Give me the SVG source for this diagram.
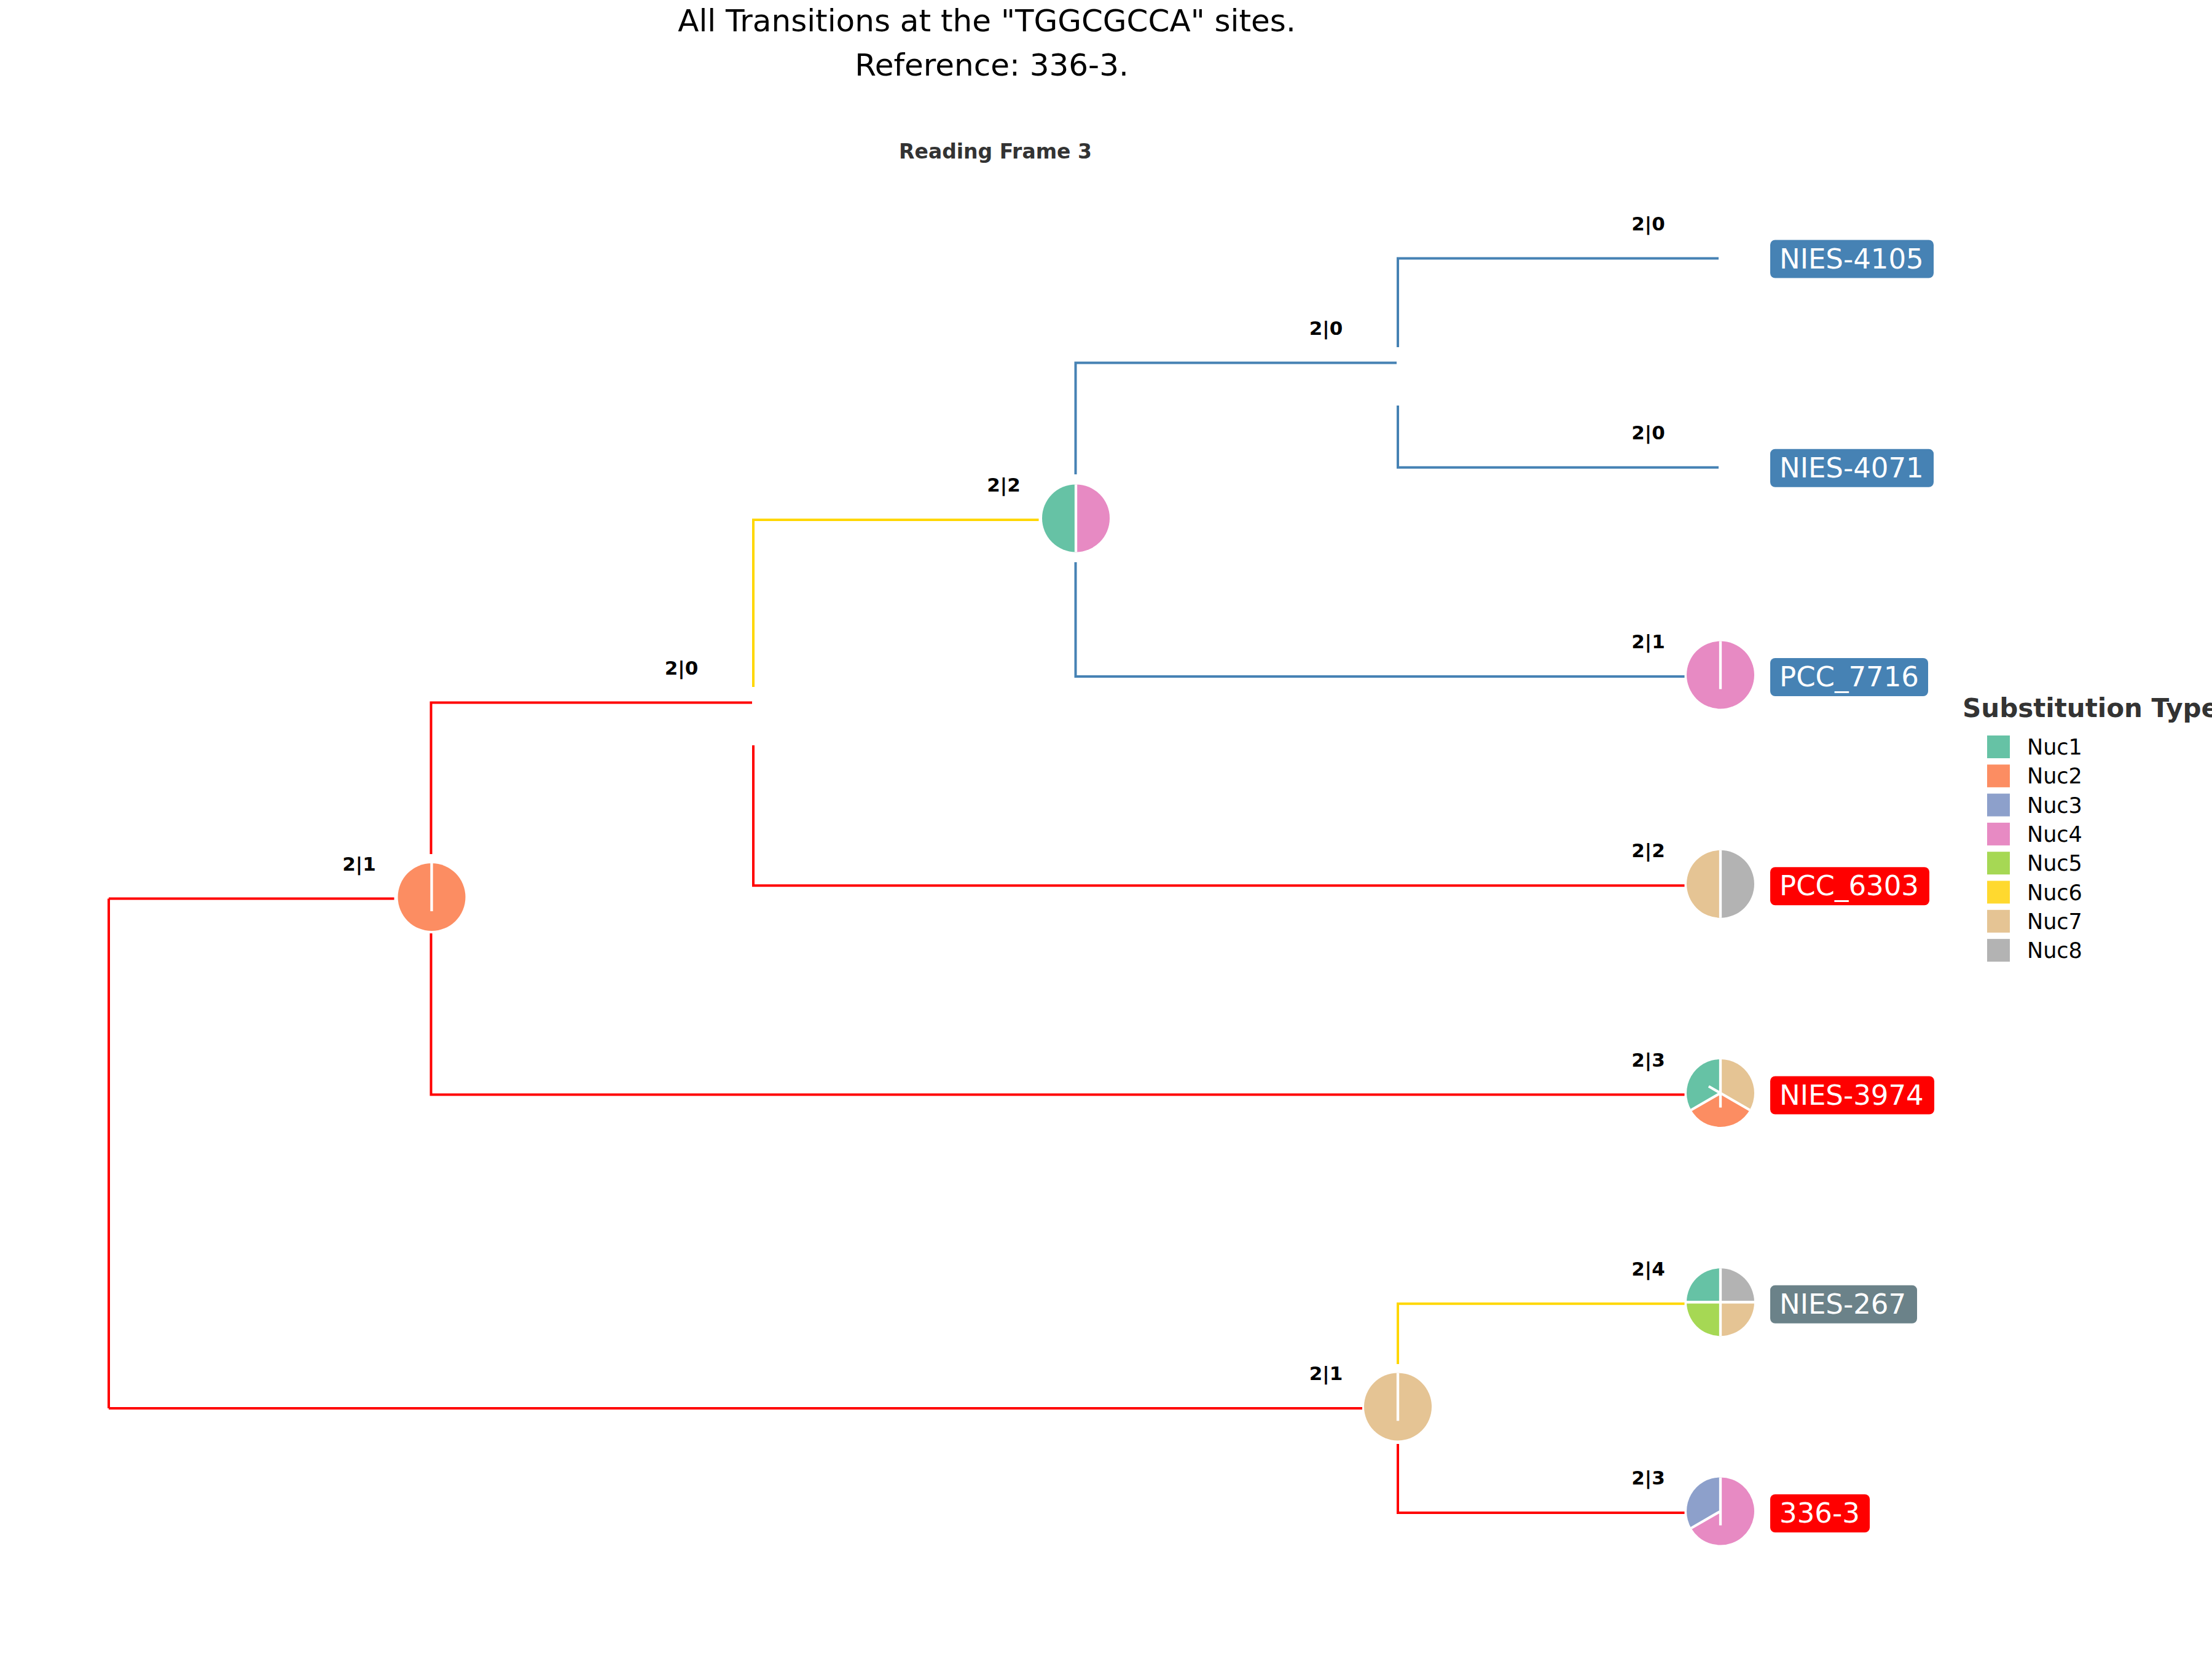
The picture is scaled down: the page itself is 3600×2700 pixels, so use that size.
<svg xmlns="http://www.w3.org/2000/svg" width="3600" height="2700" viewBox="0 0 3600 2700">
  <style>
    text { font-family: "DejaVu Sans", "Liberation Sans", sans-serif; }
    .title { font-size: 50px; fill: #000; text-anchor: middle; }
    .subtitle { font-size: 33px; font-weight: bold; fill: #333333; text-anchor: middle; }
    .blabel { font-size: 31px; font-weight: bold; fill: #000; text-anchor: middle; }
    .tip { font-size: 45px; fill: #fff; }
    .legtitle { font-size: 42px; font-weight: bold; fill: #333333; }
    .legtext { font-size: 35px; fill: #000; }
    .br { fill: none; stroke-width: 4; stroke-linejoin: miter; stroke-linecap: butt; }
    .red { stroke: #ff0000; }
    .blue { stroke: #4682b4; }
    .gold { stroke: #ffd700; }
    .edge { stroke: #fff; stroke-width: 4.3; fill: none; stroke-linecap: butt; }
    .n1 { fill: #66c2a5; } .n2 { fill: #fc8d62; } .n3 { fill: #8da0cb; } .n4 { fill: #e78ac3; }
    .n5 { fill: #a6d854; } .n6 { fill: #ffd92f; } .n7 { fill: #e5c494; } .n8 { fill: #b3b3b3; }
    .boxblue { fill: #4682b4; } .boxred { fill: #ff0000; } .boxgray { fill: #6b8289; }
  </style>

  <!-- titles -->
  <text class="title" x="1606" y="51">All Transitions at the "TGGCGCCA" sites.</text>
  <text class="title" x="1614" y="123">Reference: 336-3.</text>
  <text class="subtitle" x="1620" y="258">Reading Frame 3</text>

  <!-- branches -->
  <g id="connectors">
    <!-- root -->
    <path class="br red" d="M177 1462.5 V2291.9"/>
    <path class="br red" d="M177 1462.5 H641.5"/>
    <path class="br red" d="M177 2291.9 H2217"/>
    <!-- node A children -->
    <path class="br red" d="M701.5 1390 V1143.6 H1224"/>
    <path class="br red" d="M701.5 1519 V1781.5 H2741.5"/>
    <!-- node B children -->
    <path class="br gold" d="M1226 1118 V845.9 H1690.5"/>
    <path class="br red" d="M1226 1213 V1441.25 H2741.5"/>
    <!-- node C children -->
    <path class="br blue" d="M1750.5 772 V590.6 H2273"/>
    <path class="br blue" d="M1750.5 915 V1101 H2741.5"/>
    <!-- node D children -->
    <path class="br blue" d="M2275 565 V420.5 H2797"/>
    <path class="br blue" d="M2275 660 V760.75 H2797"/>
    <!-- node E children -->
    <path class="br gold" d="M2275 2220 V2121.75 H2741.5"/>
    <path class="br red" d="M2275 2350 V2462 H2741.5"/>
  </g>

  <!-- branch labels -->
  <g id="branch-labels">
    <text class="blabel" x="2682.5" y="374.5">2|0</text>
    <text class="blabel" x="2682.5" y="714.75">2|0</text>
    <text class="blabel" x="2158" y="544.6">2|0</text>
    <text class="blabel" x="2682.5" y="1055">2|1</text>
    <text class="blabel" x="1633.5" y="799.9">2|2</text>
    <text class="blabel" x="1109" y="1097.6">2|0</text>
    <text class="blabel" x="2682.5" y="1395.25">2|2</text>
    <text class="blabel" x="584.5" y="1416.5">2|1</text>
    <text class="blabel" x="2682.5" y="1735.5">2|3</text>
    <text class="blabel" x="2682.5" y="2075.75">2|4</text>
    <text class="blabel" x="2158" y="2245.9">2|1</text>
    <text class="blabel" x="2682.5" y="2416">2|3</text>
  </g>

  <!-- internal node A: Nuc2 -->
  <g id="node-A">
    <circle class="n2" cx="702.5" cy="1460" r="55"/>
    <path class="edge" d="M702.5 1405 V1483"/>
  </g>

  <!-- internal node C: Nuc1 / Nuc4 -->
  <g id="node-C">
    <path class="n1" d="M1751 843.4 L1751 788.4 A55 55 0 0 0 1751 898.4 Z"/>
    <path class="n4" d="M1751 843.4 L1751 898.4 A55 55 0 0 0 1751 788.4 Z"/>
    <path class="edge" d="M1751 788.4 V898.4"/>
  </g>

  <!-- internal node E: Nuc7 -->
  <g id="node-E">
    <circle class="n7" cx="2275" cy="2289.4" r="55"/>
    <path class="edge" d="M2275 2234.4 V2312.4"/>
  </g>

  <!-- tips -->
  <g id="tip-NIES-4105">
    <rect class="boxblue" x="2881" y="390.5" width="266" height="62" rx="8"/>
    <text class="tip" x="2896" y="436.5">NIES-4105</text>
  </g>

  <g id="tip-NIES-4071">
    <rect class="boxblue" x="2881" y="730.75" width="266" height="62" rx="8"/>
    <text class="tip" x="2896" y="776.75">NIES-4071</text>
  </g>

  <g id="tip-PCC_7716">
    <circle class="n4" cx="2800" cy="1098.5" r="55"/>
    <path class="edge" d="M2800 1043.5 V1121.5"/>
    <rect class="boxblue" x="2881" y="1071" width="257" height="62" rx="8"/>
    <text class="tip" x="2896" y="1117">PCC_7716</text>
  </g>

  <g id="tip-PCC_6303">
    <path class="n7" d="M2800 1438.75 L2800 1383.75 A55 55 0 0 0 2800 1493.75 Z"/>
    <path class="n8" d="M2800 1438.75 L2800 1493.75 A55 55 0 0 0 2800 1383.75 Z"/>
    <path class="edge" d="M2800 1383.75 V1493.75"/>
    <rect class="boxred" x="2881" y="1411.25" width="259" height="62" rx="8"/>
    <text class="tip" x="2896" y="1457.25">PCC_6303</text>
  </g>

  <g id="tip-NIES-3974">
    <path class="n1" d="M2800 1779 L2800 1724 A55 55 0 0 0 2752.37 1806.5 Z"/>
    <path class="n2" d="M2800 1779 L2752.37 1806.5 A55 55 0 0 0 2847.63 1806.5 Z"/>
    <path class="n7" d="M2800 1779 L2847.63 1806.5 A55 55 0 0 0 2800 1724 Z"/>
    <path class="edge" d="M2800 1724 V1802.5 M2800 1779 L2752.37 1806.5 M2800 1779 L2847.63 1806.5 M2800 1779 L2780.9 1768"/>
    <rect class="boxred" x="2881" y="1751.5" width="267" height="62" rx="8"/>
    <text class="tip" x="2896" y="1797.5">NIES-3974</text>
  </g>

  <g id="tip-NIES-267">
    <path class="n1" d="M2800 2119.25 L2800 2064.25 A55 55 0 0 0 2745 2119.25 Z"/>
    <path class="n8" d="M2800 2119.25 L2855 2119.25 A55 55 0 0 0 2800 2064.25 Z"/>
    <path class="n5" d="M2800 2119.25 L2745 2119.25 A55 55 0 0 0 2800 2174.25 Z"/>
    <path class="n7" d="M2800 2119.25 L2800 2174.25 A55 55 0 0 0 2855 2119.25 Z"/>
    <path class="edge" d="M2800 2064.25 V2174.25 M2745 2119.25 H2855"/>
    <rect class="boxgray" x="2881" y="2091.75" width="239" height="62" rx="8"/>
    <text class="tip" x="2896" y="2137.75">NIES-267</text>
  </g>

  <g id="tip-336-3">
    <path class="n3" d="M2800 2459.5 L2800 2404.5 A55 55 0 0 0 2752.37 2487 Z"/>
    <path class="n4" d="M2800 2459.5 L2752.37 2487 A55 55 0 1 0 2800 2404.5 Z"/>
    <path class="edge" d="M2800 2404.5 V2482.5 M2800 2459.5 L2752.37 2487"/>
    <rect class="boxred" x="2881" y="2432" width="162" height="62" rx="8"/>
    <text class="tip" x="2896" y="2478">336-3</text>
  </g>

  <!-- legend -->
  <g id="legend">
    <text class="legtitle" x="3194" y="1167">Substitution Type</text>
    <rect class="n1" x="3234" y="1197" width="37" height="37"/>
    <text class="legtext" x="3299" y="1228">Nuc1</text>
    <rect class="n2" x="3234" y="1244.3" width="37" height="37"/>
    <text class="legtext" x="3299" y="1275.3">Nuc2</text>
    <rect class="n3" x="3234" y="1291.6" width="37" height="37"/>
    <text class="legtext" x="3299" y="1322.6">Nuc3</text>
    <rect class="n4" x="3234" y="1338.9" width="37" height="37"/>
    <text class="legtext" x="3299" y="1369.9">Nuc4</text>
    <rect class="n5" x="3234" y="1386.2" width="37" height="37"/>
    <text class="legtext" x="3299" y="1417.2">Nuc5</text>
    <rect class="n6" x="3234" y="1433.5" width="37" height="37"/>
    <text class="legtext" x="3299" y="1464.5">Nuc6</text>
    <rect class="n7" x="3234" y="1480.8" width="37" height="37"/>
    <text class="legtext" x="3299" y="1511.8">Nuc7</text>
    <rect class="n8" x="3234" y="1528.1" width="37" height="37"/>
    <text class="legtext" x="3299" y="1559.1">Nuc8</text>
  </g>
</svg>
